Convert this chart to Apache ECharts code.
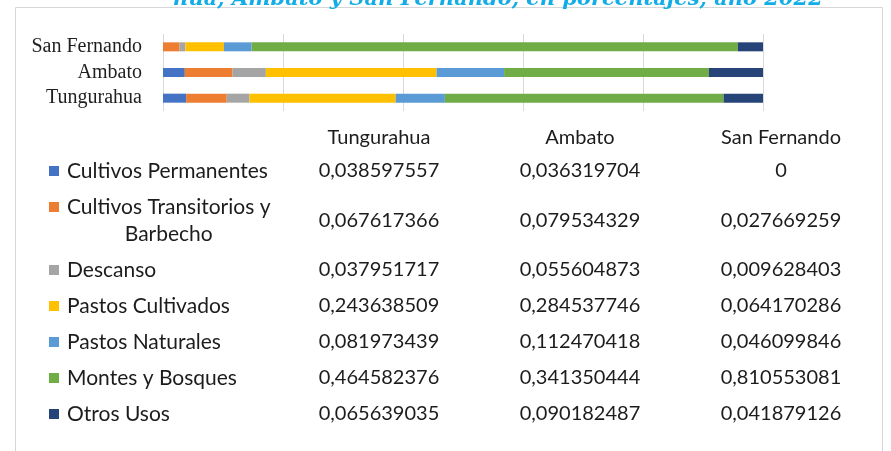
<!DOCTYPE html>
<html>
<head>
<meta charset="utf-8">
<script src="https://cdn.jsdelivr.net/npm/echarts@6/dist/echarts.min.js"></script>
<style>
  html, body { margin: 0; padding: 0; background: #ffffff; }
  #chart { width: 891px; height: 451px; }
</style>
</head>
<body>
<div id="chart"></div>
<script>
// Land use shares per territory (fractions of total area)
const categories = ['Tungurahua', 'Ambato', 'San Fernando'];
const seriesNames = [
  'Cultivos Permanentes',
  'Cultivos Transitorios y Barbecho',
  'Descanso',
  'Pastos Cultivados',
  'Pastos Naturales',
  'Montes y Bosques',
  'Otros Usos'
];
const tungurahua  = [0.038597557, 0.067617366, 0.037951717, 0.243638509, 0.081973439, 0.464582376, 0.065639035];
const ambato      = [0.036319704, 0.079534329, 0.055604873, 0.284537746, 0.112470418, 0.341350444, 0.090182487];
const sanFernando = [0,           0.027669259, 0.009628403, 0.064170286, 0.046099846, 0.810553081, 0.041879126];
const seriesColors = ['#4472C4', '#ED7D31', '#A5A5A5', '#FFC000', '#5B9BD5', '#70AD47', '#264478'];
const xTicks = { min: 0, max: 1, interval: 0.2 };
const titleText = 'hua, Ambato y San Fernando, en porcentajes, año 2022';

const columns = [tungurahua, ambato, sanFernando];

const chart = echarts.init(document.getElementById('chart'), null, { renderer: 'canvas' });

// ---- data table beneath the bars ----
const tableFont = 'Lato';
const tableSize = 20;
const labelSize = 21;
const tableColor = '#1c1c1c';
const colX = [379, 580, 781];
const headerY = 138;
const firstRowY = 171;
const rowStep = 36;
const lineStep = 27;
const labelX = 67;
const labelMaxW = 215;
const keyX = 49;
const keySize = 10;

const measureCtx = document.createElement('canvas').getContext('2d');
measureCtx.font = labelSize + 'px ' + tableFont;
function wrapLabel(text) {
  const words = text.split(' ');
  const lines = [];
  let cur = '';
  words.forEach(w => {
    const t = cur ? cur + ' ' + w : w;
    if (cur && measureCtx.measureText(t).width > labelMaxW) { lines.push(cur); cur = w; }
    else cur = t;
  });
  if (cur) lines.push(cur);
  return lines;
}
function fmt(v) { return v === 0 ? '0' : v.toFixed(9).replace('.', ','); }

const graphics = [];
// outer frame of the chart area
graphics.push({
  type: 'rect', silent: true, z: 0,
  shape: { x: 15.5, y: 7.5, width: 867, height: 470 },
  style: { fill: '#ffffff', stroke: '#d6d6d6', lineWidth: 1 }
});
// title line running above the frame
graphics.push({
  type: 'text', silent: true, z: 10,
  x: 498, y: 0,
  style: {
    text: titleText, align: 'center', verticalAlign: 'middle',
    font: 'italic bold 21px "DejaVu Serif"', fill: '#12ADE6'
  }
});
// column headers
categories.forEach((c, j) => {
  graphics.push({
    type: 'text', silent: true, z: 10, x: colX[j], y: headerY,
    style: { text: c, align: 'center', verticalAlign: 'middle',
             font: tableSize + 'px ' + tableFont, fill: tableColor }
  });
});
// rows: legend key, label, values
let y = firstRowY;
seriesNames.forEach((name, i) => {
  const lines = wrapLabel(name);
  const extra = (lines.length - 1) * lineStep;
  const rowCenter = y + extra / 2;
  const firstLineY = y;
  graphics.push({
    type: 'rect', silent: true, z: 10,
    shape: { x: keyX, y: firstLineY - keySize / 2, width: keySize, height: keySize },
    style: { fill: seriesColors[i] }
  });
  if (lines.length === 1) {
    graphics.push({
      type: 'text', silent: true, z: 10, x: labelX, y: firstLineY,
      style: { text: name, align: 'left', verticalAlign: 'middle',
               font: labelSize + 'px ' + tableFont, fill: tableColor }
    });
  } else {
    const widest = Math.max.apply(null, lines.map(l => measureCtx.measureText(l).width));
    lines.forEach((l, k) => {
      graphics.push({
        type: 'text', silent: true, z: 10, x: labelX + widest / 2, y: firstLineY + k * lineStep,
        style: { text: l, align: 'center', verticalAlign: 'middle',
                 font: labelSize + 'px ' + tableFont, fill: tableColor }
      });
    });
  }
  columns.forEach((col, j) => {
    graphics.push({
      type: 'text', silent: true, z: 10, x: colX[j], y: rowCenter,
      style: { text: fmt(col[i]), align: 'center', verticalAlign: 'middle',
               font: tableSize + 'px ' + tableFont, fill: tableColor }
    });
  });
  y += rowStep + extra;
});

const series = seriesNames.map((name, i) => ({
  name: name,
  type: 'bar',
  stack: 'uso',
  barWidth: 9,
  itemStyle: { color: seriesColors[i] },
  data: columns.map(col => col[i]),
  z: 5
}));

chart.setOption({
  backgroundColor: '#ffffff',
  animation: false,
  graphic: { elements: graphics },
  grid: { left: 163, right: 128, top: 34, bottom: 340, containLabel: false },
  xAxis: {
    type: 'value',
    min: xTicks.min, max: xTicks.max, interval: xTicks.interval,
    axisLabel: { show: false },
    axisLine: { show: false },
    axisTick: { show: false },
    splitLine: { show: true, lineStyle: { color: '#d9d9d9', width: 1 } }
  },
  yAxis: {
    type: 'category',
    data: categories,
    axisLine: { show: false },
    axisTick: { show: false },
    axisLabel: {
      interval: 0,
      margin: 21,
      padding: [4, 0, 0, 0],
      fontFamily: 'Liberation Serif',
      fontSize: 20,
      color: '#1f1f1f'
    }
  },
  series: series
});
</script>
</body>
</html>
